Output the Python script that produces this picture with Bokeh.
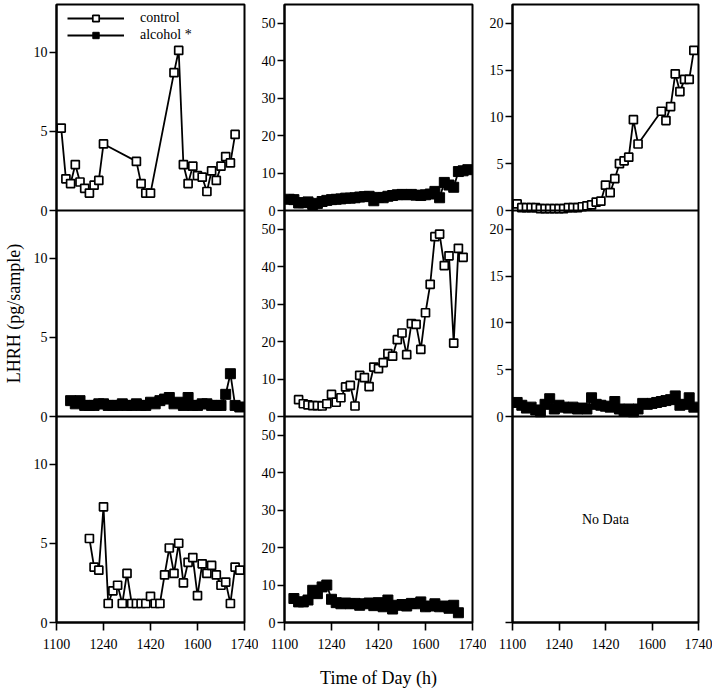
from bokeh.plotting import figure
from bokeh.models import (Range1d, FixedTicker, Span, Label, Legend, LegendItem,
                          ColumnDataSource)
from bokeh.layouts import row
from bokeh.transform import dodge
from bokeh.embed import file_html
from bokeh.resources import INLINE

FONT = "Liberation Serif"

# ---- axes / tick data ----
x_tick_values = [0, 100, 200, 300, 400]          # minutes after 11:00
x_tick_labels = ["1100", "1240", "1420", "1600", "1740"]
col_y_max = [13, 55, 22]
col_y_ticks = [[0, 5, 10], [0, 10, 20, 30, 40, 50], [0, 5, 10, 15, 20]]

# ---- data (time in minutes after 11:00, LHRH pg/sample) ----
r1c1_t = [10, 20, 30, 40, 50, 60, 70, 80, 90, 100, 170, 180, 190, 200, 250, 260, 270,
          280, 290, 300, 310, 320, 330, 340, 350, 360, 370, 380]
r1c1_v = [5.2, 2.0, 1.7, 2.9, 1.8, 1.4, 1.1, 1.6, 1.9, 4.2, 3.1, 1.7, 1.1, 1.1, 8.7, 10.1,
          2.9, 1.7, 2.8, 2.2, 2.1, 1.2, 2.5, 1.9, 2.8, 3.4, 3.0, 4.8]

r1c2_t = [10, 20, 30, 40, 50, 60, 70, 80, 90, 100, 110, 120, 130, 140, 150, 160, 170, 180,
          190, 200, 210, 220, 230, 240, 250, 260, 270, 280, 290, 300, 310, 320, 330, 340,
          350, 360, 370, 380, 390]
r1c2_v = [3.0, 2.9, 2.0, 2.1, 2.3, 1.6, 1.9, 2.4, 2.7, 2.9, 3.0, 3.1, 3.3, 3.3, 3.4, 3.6,
          3.7, 3.8, 2.6, 3.5, 3.4, 3.8, 4.0, 4.2, 4.3, 4.2, 4.3, 4.1, 4.0, 4.2, 4.4, 5.1,
          3.4, 7.5, 6.8, 6.2, 10.4, 10.6, 10.9]

r1c3_t = [10, 20, 30, 40, 50, 60, 70, 80, 90, 100, 110, 120, 130, 140, 150, 160, 170, 180,
          190, 200, 210, 220, 230, 240, 250, 260, 270, 320, 330, 340, 350, 360, 370, 380, 390]
r1c3_v = [0.7, 0.3, 0.3, 0.3, 0.3, 0.2, 0.2, 0.2, 0.2, 0.2, 0.2, 0.3, 0.3, 0.3, 0.4, 0.5,
          0.6, 0.9, 1.0, 2.7, 1.9, 3.4, 5.0, 5.3, 5.7, 9.7, 7.1, 10.6, 9.6, 11.1, 14.6,
          12.7, 14.0, 14.0, 17.1]

r2c1_t = [30, 40, 50, 60, 70, 80, 90, 100, 110, 120, 130, 140, 150, 160, 170, 180, 190,
          200, 210, 220, 230, 240, 250, 260, 270, 280, 290, 300, 310, 320, 330, 340, 350,
          360, 370, 380, 390]
r2c1_v = [1.0, 0.8, 1.0, 0.7, 0.7, 0.7, 0.8, 0.8, 0.7, 0.7, 0.7, 0.8, 0.7, 0.7, 0.8, 0.7,
          0.7, 0.9, 0.8, 1.0, 1.1, 1.2, 0.8, 0.9, 0.7, 1.2, 0.7, 0.7, 0.8, 0.8, 0.7, 0.7,
          0.7, 1.4, 2.7, 0.7, 0.6]

r2c2_t = [30, 40, 50, 60, 70, 80, 90, 100, 110, 120, 130, 140, 150, 160, 170, 180, 190,
          200, 210, 220, 230, 240, 250, 260, 270, 280, 290, 300, 310, 320, 330, 340, 350,
          360, 370, 380]
r2c2_v = [4.5, 3.4, 3.1, 2.9, 2.9, 2.8, 3.4, 5.9, 3.8, 5.0, 7.9, 8.3, 2.8, 11.0, 10.4, 8.0,
          13.2, 12.8, 14.4, 16.8, 16.1, 20.5, 22.3, 16.5, 24.8, 24.6, 17.9, 27.7, 35.3,
          48.0, 48.7, 40.3, 42.9, 19.6, 44.9, 42.5]

r2c3_t = [10, 20, 30, 40, 50, 60, 70, 80, 90, 100, 110, 120, 130, 140, 150, 160, 170, 180,
          190, 200, 210, 220, 230, 240, 250, 260, 270, 280, 290, 300, 310, 320, 330, 340,
          350, 360, 370, 380, 390]
r2c3_v = [1.5, 1.2, 0.9, 1.0, 0.7, 0.5, 1.3, 1.9, 0.8, 1.2, 1.0, 0.9, 1.0, 0.8, 0.9, 0.8,
          2.0, 1.3, 1.2, 1.1, 1.0, 1.6, 0.8, 0.6, 0.8, 0.5, 0.8, 1.4, 1.3, 1.4, 1.5, 1.6,
          1.7, 1.8, 2.2, 1.2, 1.3, 2.0, 1.0]

r3c1_t = [70, 80, 90, 100, 110, 120, 130, 140, 150, 160, 170, 180, 190, 200, 210, 220, 230,
          240, 250, 260, 270, 280, 290, 300, 310, 320, 330, 340, 350, 360, 370, 380, 390]
r3c1_v = [5.3, 3.5, 3.3, 7.3, 1.2, 2.0, 2.35, 1.2, 3.1, 1.2, 1.2, 1.2, 1.2, 1.65, 1.2, 1.2,
          3.0, 4.7, 3.1, 5.0, 2.5, 3.8, 4.1, 1.7, 3.7, 3.1, 3.6, 3.0, 2.35, 2.55, 1.2, 3.5, 3.3]

r3c2_t = [20, 30, 40, 50, 60, 70, 80, 90, 100, 110, 120, 130, 140, 150, 160, 170, 180, 190,
          200, 210, 220, 230, 240, 250, 260, 270, 280, 290, 300, 310, 320, 330, 340, 350,
          360, 370]
r3c2_v = [6.4, 5.5, 5.5, 6.0, 8.6, 7.7, 9.5, 10.0, 6.2, 5.3, 5.0, 5.2, 5.0, 5.1, 4.6, 5.0,
          5.2, 4.5, 5.3, 4.2, 6.0, 3.6, 4.6, 4.8, 4.4, 5.1, 5.0, 5.5, 4.2, 4.4, 5.0, 4.2,
          4.4, 3.8, 4.6, 2.6]

# (row, col): (group, t, v) ; row 0 = top
panels = {
    (0, 0): ("control", r1c1_t, r1c1_v),
    (0, 1): ("alcohol", r1c2_t, r1c2_v),
    (0, 2): ("control", r1c3_t, r1c3_v),
    (1, 0): ("alcohol", r2c1_t, r2c1_v),
    (1, 1): ("control", r2c2_t, r2c2_v),
    (1, 2): ("alcohol", r2c3_t, r2c3_v),
    (2, 0): ("control", r3c1_t, r3c1_v),
    (2, 1): ("alcohol", r3c2_t, r3c2_v),
}
legend_labels = {"control": "control", "alcohol": "alcohol *"}

FRAME_H = 618
col_geom = [(51, 188, 14), (24, 188, 14), (25, 186, 14)]  # left border, frame width, right border

figs = []
renderers = {}
for ci in range(3):
    H = col_y_max[ci]
    left, fw, right = col_geom[ci]
    p = figure(frame_width=fw, frame_height=FRAME_H,
               x_range=Range1d(0, 400), y_range=Range1d(0, 3 * H),
               output_backend="svg", toolbar_location=None,
               min_border_left=left, min_border_right=right,
               min_border_top=4, min_border_bottom=70)
    p.grid.visible = False
    p.outline_line_color = "black"
    p.outline_line_width = 2
    p.background_fill_color = "white"

    ticks, overrides = [], {}
    for r in range(3):
        off = (2 - r) * H
        if (r, ci) in panels or r < 2:
            for tv in col_y_ticks[ci]:
                ticks.append(off + tv)
                overrides[off + tv] = str(tv)
        else:
            ticks.append(off)
            overrides[off] = ""
    p.yaxis.ticker = FixedTicker(ticks=ticks)
    p.yaxis.major_label_overrides = overrides
    p.xaxis.ticker = FixedTicker(ticks=x_tick_values)
    p.xaxis.major_label_overrides = dict(zip(x_tick_values, x_tick_labels))

    for ax in (p.xaxis, p.yaxis):
        ax.axis_line_width = 2
        ax.axis_line_color = "black"
        ax.major_tick_line_width = 1.6
        ax.major_tick_line_color = "black"
        ax.minor_tick_line_color = None
        ax.major_tick_in = 0
        ax.major_label_text_font = FONT
        ax.major_label_text_font_size = "14px"
        ax.major_label_text_color = "black"
        ax.axis_label_text_color = "black"
    p.yaxis.major_tick_out = 7
    p.yaxis.major_label_standoff = 2
    p.xaxis.major_tick_out = 8
    p.xaxis.major_label_standoff = 8

    for k in (1, 2):
        p.add_layout(Span(location=k * H, dimension="width", line_color="black", line_width=2))

    for r in range(3):
        if (r, ci) not in panels:
            continue
        group, t, v = panels[(r, ci)]
        src = ColumnDataSource(dict(t=t, v=v))
        off = (2 - r) * H
        ln = p.line(x="t", y=dodge("v", off), source=src, line_color="black", line_width=1.8)
        if group == "control":
            sc = p.scatter(x="t", y=dodge("v", off), source=src, marker="square", size=8,
                           fill_color="white", line_color="black", line_width=1.7)
        else:
            sc = p.scatter(x="t", y=dodge("v", off), source=src, marker="square", size=10,
                           fill_color="black", line_color="black", line_width=1)
        renderers[(r, ci)] = (ln, sc)

    figs.append(p)

figs[2].add_layout(Label(x=200, y=col_y_max[2] / 2, text="No Data", text_align="center",
                         text_baseline="middle", text_font=FONT, text_font_size="14px",
                         text_color="black"))

figs[0].yaxis.axis_label = "LHRH (pg/sample)"
figs[0].yaxis.axis_label_text_font = FONT
figs[0].yaxis.axis_label_text_font_size = "18px"
figs[0].yaxis.axis_label_text_font_style = "normal"
figs[0].yaxis.axis_label_standoff = 7
figs[1].xaxis.axis_label = "Time of Day (h)"
figs[1].xaxis.axis_label_text_font = FONT
figs[1].xaxis.axis_label_text_font_size = "18px"
figs[1].xaxis.axis_label_text_font_style = "normal"
figs[1].xaxis.axis_label_standoff = 16

legend = Legend(items=[
    LegendItem(label=legend_labels["control"], renderers=list(renderers[(0, 0)])),
    LegendItem(label=legend_labels["alcohol"], renderers=list(renderers[(1, 0)])),
], location=(11, FRAME_H - 6 - 33), orientation="vertical",
    border_line_color=None, background_fill_alpha=0, padding=0, margin=0,
    glyph_width=57, glyph_height=16, label_height=16, spacing=1, label_standoff=16,
    label_text_font=FONT, label_text_font_size="14px", label_text_color="black")
figs[0].add_layout(legend)

layout = row(*figs, spacing=0)
open("out.html", "w").write(file_html(layout, INLINE))
